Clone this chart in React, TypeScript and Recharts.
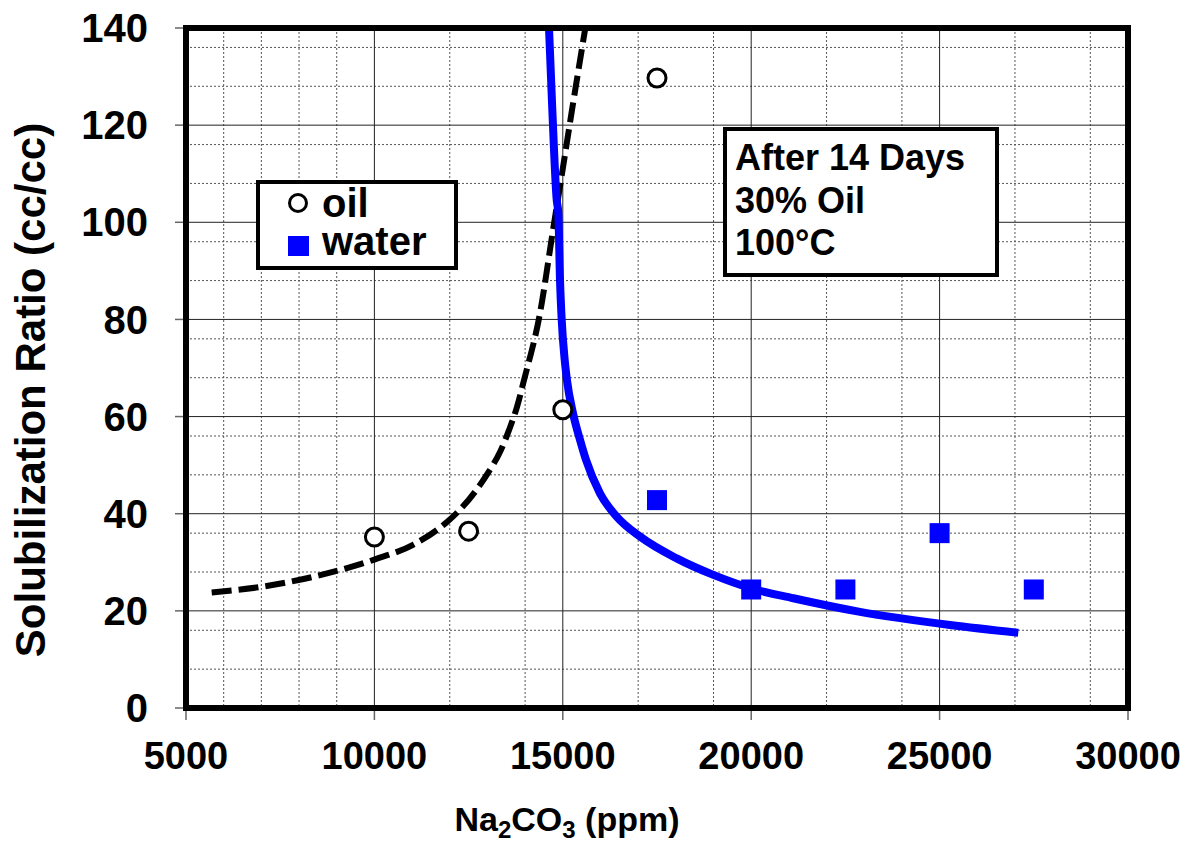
import React from "react";
import {
  ComposedChart,
  Line,
  Scatter,
  XAxis,
  YAxis,
  CartesianGrid,
  Label,
} from "recharts";

const FONT = "'Liberation Sans', Arial, Helvetica, sans-serif";

// measured samples, Na2CO3 ppm vs solubilization ratio
const oilPoints = [
  { x: 10000, y: 35.2 },
  { x: 12500, y: 36.4 },
  { x: 15000, y: 61.4 },
  { x: 17500, y: 129.7 },
];

const waterPoints = [
  { x: 17500, y: 42.8 },
  { x: 20000, y: 24.4 },
  { x: 22500, y: 24.4 },
  { x: 25000, y: 36.0 },
  { x: 27500, y: 24.4 },
];

// fitted trend for oil (dashed)
const oilTrend = [
  { x: 5682, y: 23.8 },
  { x: 7044, y: 25.0 },
  { x: 8370, y: 27.0 },
  { x: 9273, y: 28.8 },
  { x: 10016, y: 30.6 },
  { x: 11024, y: 33.6 },
  { x: 11927, y: 38.3 },
  { x: 12192, y: 40.2 },
  { x: 12670, y: 44.5 },
  { x: 13015, y: 48.4 },
  { x: 13333, y: 52.7 },
  { x: 13572, y: 57.2 },
  { x: 13785, y: 62.0 },
  { x: 13970, y: 67.5 },
  { x: 14395, y: 81.3 },
  { x: 14740, y: 98.4 },
  { x: 14952, y: 108.7 },
  { x: 15244, y: 123.1 },
  { x: 15589, y: 139.6 },
];

// fitted trend for water (solid blue)
const waterTrend = [
  { x: 14634, y: 140.0 },
  { x: 14722, y: 123.1 },
  { x: 14838, y: 104.6 },
  { x: 14881, y: 101.9 },
  { x: 14926, y: 88.1 },
  { x: 14971, y: 79.9 },
  { x: 15050, y: 71.7 },
  { x: 15111, y: 67.5 },
  { x: 15270, y: 60.7 },
  { x: 15457, y: 55.2 },
  { x: 15615, y: 51.1 },
  { x: 15987, y: 44.2 },
  { x: 16430, y: 39.4 },
  { x: 17049, y: 35.3 },
  { x: 18023, y: 30.8 },
  { x: 18995, y: 27.4 },
  { x: 20013, y: 24.6 },
  { x: 21118, y: 22.6 },
  { x: 22887, y: 19.8 },
  { x: 25276, y: 17.1 },
  { x: 27088, y: 15.5 },
];

const xTicks = [5000, 10000, 15000, 20000, 25000, 30000];
const yTicks = [0, 20, 40, 60, 80, 100, 120, 140];

// minor grid every 1000 ppm / every 4 units, skipping the major lines
const xMinor: number[] = [];
for (let v = 6000; v < 30000; v += 1000) if (v % 5000 !== 0) xMinor.push(v);
const yMinor: number[] = [];
for (let v = 4; v < 140; v += 4) if (v % 20 !== 0) yMinor.push(v);

const tickFont = { fontWeight: "bold", fill: "#000", fontFamily: FONT };

const OilMarker = (props: any) => {
  const { cx, cy } = props;
  return <circle cx={cx} cy={cy} r={9} fill="#fff" stroke="#000" strokeWidth={3} />;
};

const WaterMarker = (props: any) => {
  const { cx, cy } = props;
  return <rect x={cx - 10} y={cy - 10} width={20} height={20} fill="#0000ff" />;
};

const boxStyle: React.CSSProperties = {
  position: "absolute",
  background: "#fff",
  border: "4px solid #000",
  boxSizing: "border-box",
  fontFamily: FONT,
  fontWeight: "bold",
  color: "#000",
};

export default function App() {
  return (
    <div style={{ position: "absolute", left: 0, top: 0, width: 1202, height: 846, background: "#fff" }}>
      <ComposedChart
        width={1202}
        height={846}
        margin={{ top: 28, right: 74, bottom: 78, left: 86 }}
      >
        <CartesianGrid
          verticalValues={xMinor}
          horizontalValues={yMinor}
          stroke="#555"
          strokeDasharray="2 2"
          strokeWidth={1}
        />
        <CartesianGrid
          verticalValues={xTicks}
          horizontalValues={yTicks}
          stroke="#222"
          strokeWidth={1}
        />
        <XAxis
          type="number"
          dataKey="x"
          domain={[5000, 30000]}
          ticks={xTicks}
          allowDataOverflow
          height={60}
          axisLine={false}
          tickLine={{ stroke: "#666", strokeWidth: 1.5 }}
          tickSize={12}
          tickMargin={22}
          tick={{ ...tickFont, fontSize: 38 }}
        >
          <Label
            content={() => (
              <text x={567} y={831} textAnchor="middle" fontSize={34} fontWeight="bold" fontFamily={FONT} fill="#000">
                Na<tspan dy={7} fontSize={24}>2</tspan>
                <tspan dy={-7}>CO</tspan>
                <tspan dy={7} fontSize={24}>3</tspan>
                <tspan dy={-7}> (ppm)</tspan>
              </text>
            )}
          />
        </XAxis>
        <YAxis
          type="number"
          dataKey="y"
          domain={[0, 140]}
          ticks={yTicks}
          allowDataOverflow
          width={100}
          axisLine={false}
          tickLine={{ stroke: "#666", strokeWidth: 1.5 }}
          tickSize={11}
          tickMargin={27}
          tick={{ ...tickFont, fontSize: 40 }}
        >
          <Label
            content={() => (
              <text
                x={45}
                y={390}
                transform="rotate(-90 45 390)"
                textAnchor="middle"
                fontSize={42}
                fontWeight="bold"
                fontFamily={FONT}
                fill="#000"
              >
                Solubilization Ratio (cc/cc)
              </text>
            )}
          />
        </YAxis>
        <Line
          data={oilTrend}
          dataKey="y"
          type="monotone"
          stroke="#000"
          strokeWidth={6}
          strokeDasharray="20 7"
          dot={false}
          isAnimationActive={false}
        />
        <Line
          data={waterTrend}
          dataKey="y"
          type="monotone"
          stroke="#0000ff"
          strokeWidth={8}
          dot={false}
          isAnimationActive={false}
        />
        <Scatter data={oilPoints} shape={<OilMarker />} isAnimationActive={false} />
        <Scatter data={waterPoints} shape={<WaterMarker />} isAnimationActive={false} />
      </ComposedChart>

      {/* heavy frame round the plot area */}
      <div
        style={{
          position: "absolute",
          left: 183,
          top: 25,
          width: 948,
          height: 686,
          border: "6px solid #000",
          boxSizing: "border-box",
          pointerEvents: "none",
        }}
      />

      {/* series key */}
      <div style={{ ...boxStyle, left: 256, top: 180, width: 202, height: 90 }}>
        <div style={{ position: "absolute", left: 28, top: 9, width: 20, height: 20, borderRadius: "50%", border: "3px solid #000", boxSizing: "border-box" }} />
        <div style={{ position: "absolute", left: 28, top: 52, width: 21, height: 20, background: "#0000ff" }} />
        <div style={{ position: "absolute", left: 62, top: 0, fontSize: 40, lineHeight: "38.3px" }}>
          oil
          <br />
          water
        </div>
      </div>

      {/* test conditions */}
      <div style={{ ...boxStyle, left: 723, top: 127, width: 276, height: 150, padding: "6px 0 0 8px", fontSize: 36, lineHeight: "42.5px" }}>
        <div>After 14 Days</div>
        <div>30% Oil</div>
        <div>100°C</div>
      </div>
    </div>
  );
}
